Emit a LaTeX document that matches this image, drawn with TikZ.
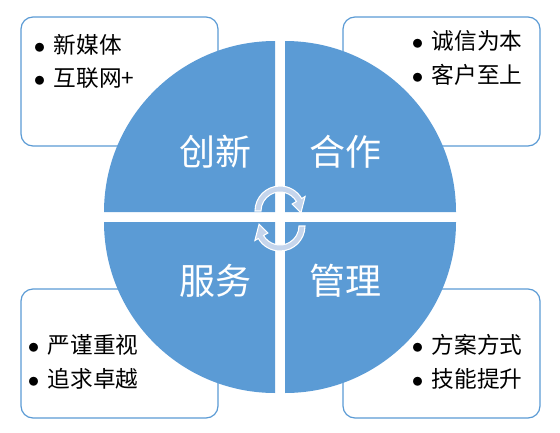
\documentclass[tikz,border=0pt]{standalone}
\usepackage{fontspec}
\setmainfont{Noto Sans CJK SC}
\usetikzlibrary{calc}
\definecolor{quadblue}{RGB}{91,155,213}
\definecolor{arrowblue}{RGB}{197,213,236}
\newcommand{\itemdot}{$\bullet$\hspace{6.4pt}}

\begin{document}
\begin{tikzpicture}[x=0.75pt, y=-0.75pt,
    box/.style={draw=quadblue, line width=0.9pt, fill=white, rounded corners=9pt,
      minimum width=147.75pt, minimum height=96.75pt, inner sep=0pt},
    items/.style={anchor=west, align=left, inner sep=0pt, font=\fontsize{17}{25}\selectfont},
    title/.style={text=white, inner sep=0pt, font=\fontsize{27}{27}\selectfont},
    quad/.style={fill=quadblue},
    turn/.style={fill=arrowblue, draw=white, line width=0.8pt}]
    \useasboundingbox (0,0) rectangle (560,432);

    \node[box] (boxtl) at (119.5,81.5) {};
    \node[box] (boxtr) at (441.5,81.5) {};
    \node[box] (boxbl) at (119.5,353.5) {};
    \node[box] (boxbr) at (441.5,353.5) {};

    \foreach \dx/\dy/\a in {-5/-5/180, 5/-5/270, -5/5/90, 5/5/0}
      \fill[quad] ($(280,217)+(\dx,\dy)$) -- ++(\a:171) arc[start angle=\a, end angle=\a+90, radius=171] -- cycle;

    \foreach \c/\r in {{(280,211)}/0, {(280,226)}/180}
      \filldraw[turn, shift={\c}, rotate=\r] (180:25) arc[start angle=180, end angle=330, radius=25]
        -- (330:29) -- (5:21) -- (330:14) -- (330:19) arc[start angle=330, end angle=180, radius=19] -- cycle;

    \node[title] (chuangxin) at (215,152) {创新};
    \node[title] (hezuo) at (345,152) {合作};
    \node[title] (fuwu) at (215,281) {服务};
    \node[title] (guanli) at (345,281) {管理};

    \node[items] (itemtl) at (33.5,61.5) {\itemdot 新媒体\\\itemdot 互联网+};
    \node[items] (itemtr) at (411.5,58) {\itemdot 诚信为本\\\itemdot 客户至上};
    \node[items] (itembl) at (27.5,362) {\itemdot 严谨重视\\\itemdot 追求卓越};
    \node[items] (itembr) at (411.5,362) {\itemdot 方案方式\\\itemdot 技能提升};
  \end{tikzpicture}
\end{document}
